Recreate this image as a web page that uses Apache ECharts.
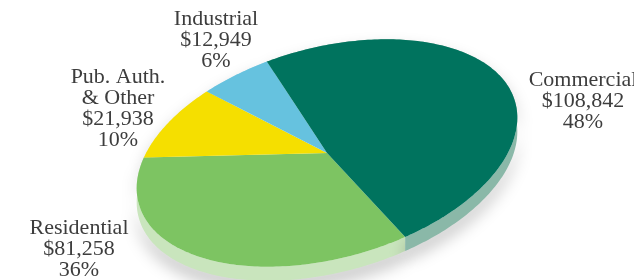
<!DOCTYPE html>
<html>
<head>
<meta charset="utf-8">
<script src="https://cdn.jsdelivr.net/npm/echarts@6/dist/echarts.min.js"></script>
<style>
  html, body { margin: 0; padding: 0; background: #fff; }
  #chart { width: 634px; height: 280px; }
</style>
</head>
<body>
<div id="chart"></div>
<script>
// slices, in clockwise order starting at the front (Residential)
var names = ['Residential', 'Pub. Auth.\n& Other', 'Industrial', 'Commercial'];
var values = [81258, 21938, 12949, 108842];
var topColors = ['#7dc462', '#f5df00', '#66c2df', '#00735e'];
var sideColors = ['#c9e5bd', '#eee79a', '#b3dcea', '#8ab8a8'];

// where each label block sits (centre x, top y)
var labelPos = [[79, 218], [118, 67], [216, 9], [583, 70]];

// tilted ellipse that stands in for the 3d pie
var cx = 327, cy = 153, ra = 195, rb = 105.5, tilt = 15 * Math.PI / 180, depth = 14;
var startDeg = 74;

var total = values.reduce(function (s, v) { return s + v; }, 0);
var bounds = [startDeg];
values.forEach(function (v, i) { bounds.push(bounds[i] + v / total * 360); });

function pt(deg, dy) {
  var t = deg * Math.PI / 180;
  var u = ra * Math.cos(t), w = rb * Math.sin(t);
  return [cx + u * Math.cos(tilt) + w * Math.sin(tilt),
          cy - u * Math.sin(tilt) + w * Math.cos(tilt) + (dy || 0)];
}
function arc(a0, a1, dy) {
  var pts = [], n = Math.max(2, Math.ceil(a1 - a0));
  for (var k = 0; k <= n; k++) pts.push(pt(a0 + (a1 - a0) * k / n, dy));
  return pts;
}
function money(v) {
  return '$' + String(v).replace(/\B(?=(\d{3})+(?!\d))/g, ',');
}

var chart = echarts.init(document.getElementById('chart'));
chart.setOption({
  animation: false,
  series: [
    {
      // side walls (drawn first, the top covers the back ones)
      type: 'custom',
      coordinateSystem: 'none',
      data: values.map(function (v) { return [v]; }),
      renderItem: function (params) {
        var i = params.dataIndex;
        var top = arc(bounds[i], bounds[i + 1], 0);
        var bot = arc(bounds[i], bounds[i + 1], depth).reverse();
        return {
          type: 'polygon',
          shape: { points: top.concat(bot) },
          style: {
            fill: sideColors[i],
            shadowColor: 'rgba(0,0,0,0.25)',
            shadowBlur: 16,
            shadowOffsetY: 9
          }
        };
      }
    },
    {
      type: 'custom',
      coordinateSystem: 'none',
      data: values.map(function (v) { return [v]; }),
      renderItem: function (params) {
        var i = params.dataIndex;
        var pts = [[cx, cy]].concat(arc(bounds[i], bounds[i + 1], 0));
        return {
          type: 'polygon',
          shape: { points: pts },
          style: { fill: topColors[i] }
        };
      }
    },
    {
      // label blocks
      type: 'custom',
      coordinateSystem: 'none',
      data: values.map(function (v) { return [v]; }),
      renderItem: function (params) {
        var i = params.dataIndex;
        var pct = Math.round(values[i] / total * 100) + '%';
        return {
          type: 'text',
          x: labelPos[i][0],
          y: labelPos[i][1],
          style: {
            text: names[i] + '\n' + money(values[i]) + '\n' + pct,
            fill: '#3d3d3d',
            font: '22px "Liberation Serif", serif',
            lineHeight: 21,
            align: 'center',
            verticalAlign: 'top'
          }
        };
      }
    }
  ]
});
</script>
</body>
</html>
